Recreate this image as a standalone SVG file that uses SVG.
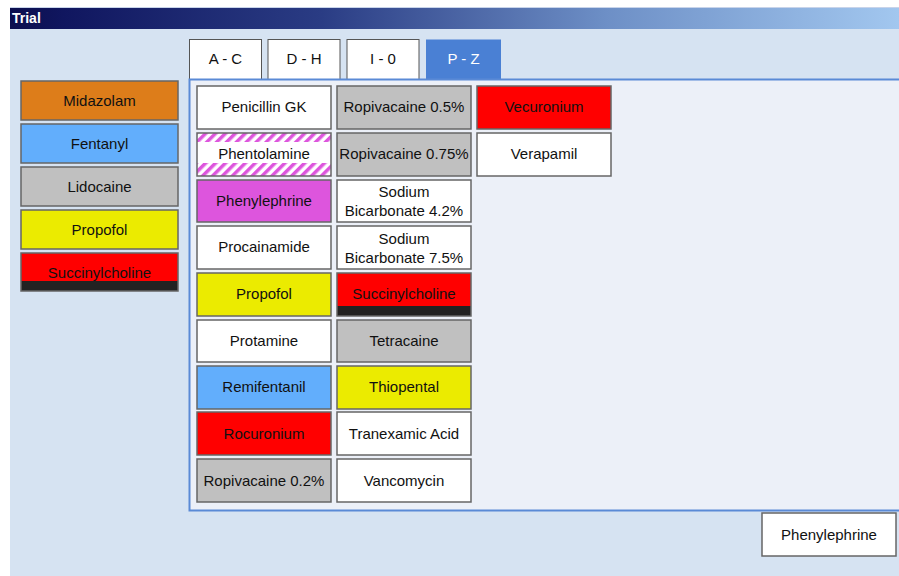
<svg xmlns="http://www.w3.org/2000/svg" width="899" height="576" viewBox="0 0 899 576">
<defs>
<linearGradient id="tb" x1="0" y1="0" x2="1" y2="0">
<stop offset="0" stop-color="#0c0f4e"/>
<stop offset="0.06" stop-color="#10165f"/>
<stop offset="0.35" stop-color="#2a3c84"/>
<stop offset="0.67" stop-color="#6d8fc6"/>
<stop offset="1" stop-color="#a2c7ef"/>
</linearGradient>
<pattern id="stripe" patternUnits="userSpaceOnUse" width="7" height="7" patternTransform="rotate(45)">
<rect x="0" y="0" width="3.5" height="7" fill="#dd55dd"/>
</pattern>
<style>
.b{stroke:#666;stroke-width:1.5}
.t{font-family:"Liberation Sans",Arial,sans-serif;font-size:15px;fill:#111;text-anchor:middle}
.w{fill:#fff}.o{fill:#dd7d1a}.bl{fill:#62aefc}.g{fill:#c0c0c0}.y{fill:#ebeb00}.r{fill:#ff0000}.m{fill:#dd55dd}
.tab{fill:#fff;stroke:#555;stroke-width:1}
</style>
</defs>
<rect x="0" y="0" width="899" height="576" fill="#fff"/>
<rect x="10" y="29" width="889" height="547" fill="#d6e3f2"/>
<rect x="10" y="7" width="889" height="22" fill="url(#tb)"/>
<line x1="10" y1="7.5" x2="899" y2="7.5" stroke="#c8d4ea" stroke-width="1"/>
<text x="12" y="23" style="font-family:'Liberation Sans',Arial,sans-serif;font-size:14px;font-weight:bold;fill:#fff">Trial</text>

<g id="tabs">
<g id="tab-ac"><rect class="tab" x="189.5" y="39.5" width="72" height="41"/><text class="t" x="225.5" y="64">A - C</text></g>
<g id="tab-dh"><rect class="tab" x="268" y="39.5" width="72" height="41"/><text class="t" x="304" y="64">D - H</text></g>
<g id="tab-io"><rect class="tab" x="347" y="39.5" width="72" height="41"/><text class="t" x="383" y="64">I - 0</text></g>
<g id="tab-pz"><rect x="426" y="39.5" width="75" height="41" fill="#4a80d4"/><text class="t" x="463.5" y="64" style="fill:#fff">P - Z</text></g>
</g>

<rect x="189.5" y="79.5" width="712" height="431" fill="#ecf0f8" stroke="#5a8ad6" stroke-width="2"/>

<g id="left">
<g id="l-midazolam"><rect class="b o" x="21" y="81" width="157" height="39"/><text class="t" x="99.5" y="106">Midazolam</text></g>
<g id="l-fentanyl"><rect class="b bl" x="21" y="124" width="157" height="39"/><text class="t" x="99.5" y="149">Fentanyl</text></g>
<g id="l-lidocaine"><rect class="b g" x="21" y="167" width="157" height="39"/><text class="t" x="99.5" y="192">Lidocaine</text></g>
<g id="l-propofol"><rect class="b y" x="21" y="210" width="157" height="39"/><text class="t" x="99.5" y="235">Propofol</text></g>
<g id="l-succ"><rect class="r" x="21" y="253" width="157" height="38"/><rect x="21" y="281" width="157" height="10" fill="#222"/><rect x="21" y="253" width="157" height="38" fill="none" class="b"/><text class="t" x="99.5" y="278">Succinylcholine</text></g>
</g>

<g id="grid">
<g id="penicillin"><rect class="b w" x="197" y="86" width="134" height="43"/><text class="t" x="264" y="112">Penicillin GK</text></g>
<g id="phentolamine"><rect class="w" x="197" y="133" width="134" height="43"/><rect x="197" y="133" width="134" height="9" fill="url(#stripe)"/><rect x="197" y="163" width="134" height="13" fill="url(#stripe)"/><rect class="b" fill="none" x="197" y="133" width="134" height="43"/><text class="t" x="264" y="159">Phentolamine</text></g>
<g id="phenylephrine"><rect class="b m" x="197" y="180" width="134" height="42"/><text class="t" x="264" y="206">Phenylephrine</text></g>
<g id="procainamide"><rect class="b w" x="197" y="226" width="134" height="43"/><text class="t" x="264" y="252">Procainamide</text></g>
<g id="propofol"><rect class="b y" x="197" y="273" width="134" height="43"/><text class="t" x="264" y="299">Propofol</text></g>
<g id="protamine"><rect class="b w" x="197" y="320" width="134" height="42"/><text class="t" x="264" y="346">Protamine</text></g>
<g id="remifentanil"><rect class="b bl" x="197" y="366" width="134" height="43"/><text class="t" x="264" y="392">Remifentanil</text></g>
<g id="rocuronium"><rect class="b r" x="197" y="412" width="134" height="43"/><text class="t" x="264" y="439">Rocuronium</text></g>
<g id="ropi02"><rect class="b g" x="197" y="459" width="134" height="43"/><text class="t" x="264" y="486">Ropivacaine 0.2%</text></g>

<g id="ropi05"><rect class="b g" x="337" y="86" width="134" height="43"/><text class="t" x="404" y="112">Ropivacaine 0.5%</text></g>
<g id="ropi075"><rect class="b g" x="337" y="133" width="134" height="43"/><text class="t" x="404" y="159">Ropivacaine 0.75%</text></g>
<g id="sodbic42"><rect class="b w" x="337" y="180" width="134" height="42"/><text class="t" x="404" y="197">Sodium</text><text class="t" x="404" y="216">Bicarbonate 4.2%</text></g>
<g id="sodbic75"><rect class="b w" x="337" y="226" width="134" height="43"/><text class="t" x="404" y="244">Sodium</text><text class="t" x="404" y="263">Bicarbonate 7.5%</text></g>
<g id="succ"><rect class="r" x="337" y="273" width="134" height="43"/><rect x="337" y="306" width="134" height="10" fill="#222"/><rect class="b" fill="none" x="337" y="273" width="134" height="43"/><text class="t" x="404" y="299">Succinylcholine</text></g>
<g id="tetracaine"><rect class="b g" x="337" y="320" width="134" height="42"/><text class="t" x="404" y="346">Tetracaine</text></g>
<g id="thiopental"><rect class="b y" x="337" y="366" width="134" height="43"/><text class="t" x="404" y="392">Thiopental</text></g>
<g id="tranexamic"><rect class="b w" x="337" y="412" width="134" height="43"/><text class="t" x="404" y="439">Tranexamic Acid</text></g>
<g id="vancomycin"><rect class="b w" x="337" y="459" width="134" height="43"/><text class="t" x="404" y="486">Vancomycin</text></g>

<g id="vecuronium"><rect class="b r" x="477" y="86" width="134" height="43"/><text class="t" x="544" y="112">Vecuronium</text></g>
<g id="verapamil"><rect class="b w" x="477" y="133" width="134" height="43"/><text class="t" x="544" y="159">Verapamil</text></g>
</g>

<g id="selected"><rect class="b w" x="762" y="513" width="134" height="43"/><text class="t" x="829" y="540">Phenylephrine</text></g>
<g id="connectors"></g>
</svg>
